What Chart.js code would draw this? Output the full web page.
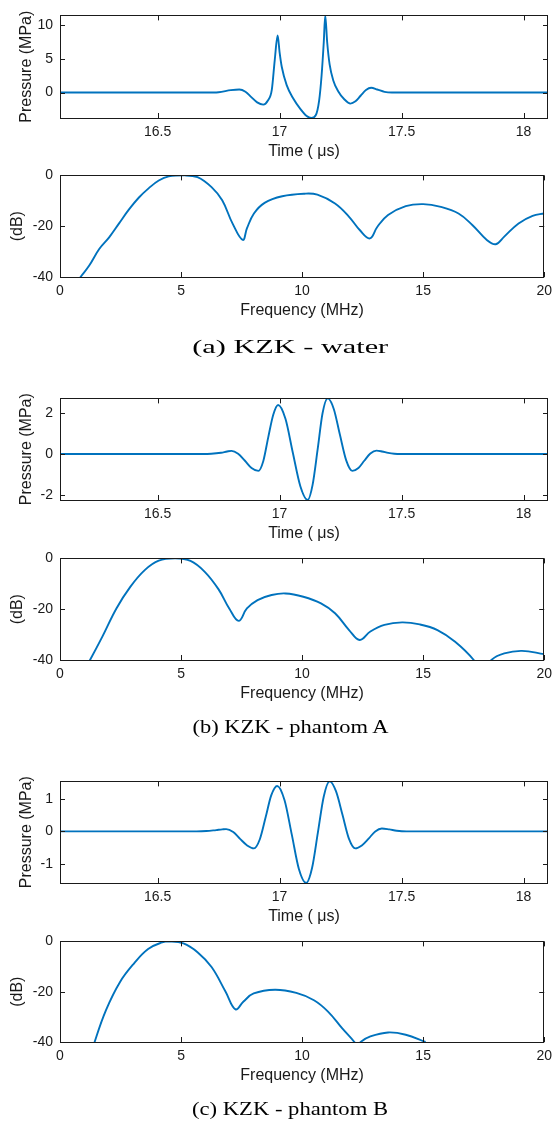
<!DOCTYPE html>
<html><head><meta charset="utf-8">
<script src="https://cdn.jsdelivr.net/npm/chart.js@4.4.1/dist/chart.umd.min.js"></script>
<style>
html,body{margin:0;padding:0;background:#fff}
body{width:558px;height:1122px;position:relative;overflow:hidden}
canvas{position:absolute;left:0;display:block}
.cap{position:absolute;left:11px;width:558px;text-align:center;font-family:"Liberation Serif",serif;font-size:18px;line-height:18px;color:#000;white-space:nowrap}
.cap span{display:inline-block;transform-origin:50% 50%}
</style></head><body>
<canvas id="c1"></canvas><canvas id="c2"></canvas>
<div class="cap" id="capA" style="top:338px"><span>(a) KZK - water</span></div>
<canvas id="c3"></canvas><canvas id="c4"></canvas>
<div class="cap" id="capB" style="top:718px"><span>(b) KZK - phantom A</span></div>
<canvas id="c5"></canvas><canvas id="c6"></canvas>
<div class="cap" id="capC" style="top:1100px"><span>(c) KZK - phantom B</span></div>
<script>
// ---- tick labels ----
const timeTicks = [16.5, 17, 17.5, 18];
const freqTicks = [0, 5, 10, 15, 20];
const dbTicks = [-40, -20, 0];
const pressTicksWater = [0, 5, 10];
const pressTicksA = [-2, 0, 2];
const pressTicksB = [-1, 0, 1];

// ---- (a) water ----
const waterTime = [16.10, 16.70, 16.75, 16.80, 16.835, 16.86, 16.884, 16.908, 16.933, 16.952, 16.968, 16.98, 16.992, 17.00, 17.009, 17.029, 17.056, 17.084, 17.111, 17.13, 17.148, 17.162, 17.172, 17.181, 17.187, 17.195, 17.205, 17.22, 17.24, 17.265, 17.29, 17.311, 17.332, 17.354, 17.375, 17.40, 17.43, 17.46, 18.10];
const waterPressure = [0, 0, 0.05, 0.35, 0.45, 0.12, -0.68, -1.47, -1.8, -1.2, 0.4, 4.8, 8.5, 6.0, 3.8, 1.1, -0.9, -2.4, -3.5, -3.8, -3.4, -1.2, 2.5, 7.5, 11.5, 7.5, 4.2, 1.8, 0.2, -1.0, -1.65, -1.31, -0.48, 0.36, 0.7, 0.45, 0.1, 0, 0];
const waterFreq = [0.6, 0.85, 1.2, 1.62, 2.03, 2.44, 2.85, 3.26, 3.67, 4.08, 4.49, 5.15, 5.68, 6.26, 6.7, 7.13, 7.55, 7.72, 8.01, 8.45, 9.18, 10.1, 10.63, 11.36, 11.94, 12.38, 12.8, 13.11, 13.55, 14.28, 15.0, 15.73, 16.46, 17.04, 17.63, 18.0, 18.35, 18.94, 19.52, 20.0];
const waterDb = [-43, -40, -35.6, -29, -24.4, -18.9, -13.4, -8.7, -5, -2, -0.4, 0, -0.65, -4.6, -9.8, -19, -25.4, -20.9, -15, -10.8, -8.2, -7.2, -7.6, -11.1, -16.3, -21.5, -24.8, -20.2, -15.6, -12.1, -11.3, -12.4, -15, -19.6, -25.4, -27.1, -24.1, -18.9, -15.9, -15];

// ---- (b) phantom A ----
const timeA = [16.10, 16.68, 16.72, 16.76, 16.785, 16.803, 16.83, 16.858, 16.885, 16.913, 16.933, 16.953, 16.974, 16.994, 17.024, 17.054, 17.085, 17.115, 17.135, 17.156, 17.176, 17.197, 17.222, 17.247, 17.273, 17.298, 17.323, 17.347, 17.372, 17.397, 17.42, 17.445, 17.47, 17.50, 18.10];
const pressureA = [0, 0, 0.01, 0.06, 0.12, 0.15, 0.01, -0.33, -0.68, -0.82, -0.35, 0.78, 1.9, 2.37, 1.7, 0.07, -1.56, -2.23, -1.51, 0.23, 1.97, 2.69, 2.18, 0.94, -0.31, -0.82, -0.68, -0.33, 0.02, 0.16, 0.12, 0.05, 0.01, 0, 0];
const freqA = [1.0, 1.24, 1.75, 2.33, 2.91, 3.5, 4.08, 4.75, 5.39, 5.97, 6.55, 6.99, 7.38, 7.72, 8.16, 8.74, 9.32, 10.05, 10.78, 11.36, 11.94, 12.38, 12.82, 13.4, 14.13, 14.86, 15.59, 16.32, 17.09, 17.45, 17.82, 18.35, 19.08, 20.0];
const dbA = [-44, -40, -30.8, -19.7, -11.1, -4.6, -0.9, 0, -1, -5.2, -12.2, -19.7, -24.6, -19.7, -16.4, -14.4, -13.8, -15.1, -17.7, -21.6, -28.2, -32.1, -28.8, -26.2, -25.2, -26, -28.2, -32.8, -40, -46, -40, -37.4, -36.4, -37.7];

// ---- (c) phantom B ----
const timeB = [16.10, 16.66, 16.70, 16.74, 16.765, 16.781, 16.81, 16.838, 16.867, 16.895, 16.919, 16.943, 16.966, 16.99, 17.02, 17.05, 17.079, 17.109, 17.133, 17.157, 17.181, 17.205, 17.231, 17.258, 17.284, 17.31, 17.337, 17.365, 17.392, 17.419, 17.45, 17.48, 17.52, 18.10];
const pressureB = [0, 0, 0.01, 0.04, 0.06, 0.07, -0.02, -0.23, -0.43, -0.52, -0.24, 0.44, 1.11, 1.39, 0.96, -0.1, -1.15, -1.58, -1.12, -0.03, 1.07, 1.53, 1.23, 0.5, -0.22, -0.52, -0.43, -0.22, 0, 0.09, 0.06, 0.02, 0, 0];
const freqB = [1.3, 1.43, 1.9, 2.48, 3.06, 3.64, 4.22, 4.51, 5.1, 5.68, 6.26, 6.84, 7.25, 7.57, 8.0, 8.88, 9.76, 10.49, 11.07, 11.65, 12.16, 12.29, 12.42, 12.82, 13.55, 14.28, 15.1];
const dbB = [-45, -40, -27.3, -16.1, -8.7, -3, -0.4, 0, -0.8, -4.3, -10.2, -20, -27, -24, -20.7, -19.2, -20.5, -23.4, -27.9, -34.5, -40, -42, -40, -37.8, -36.2, -37.1, -40];

const AXIS = '#1a1a1a';
const LINE = '#0072BD';
const SANS = '"Liberation Sans", Arial, sans-serif';

const boxPlugin = {
  id: 'box',
  afterDraw(chart) {
    const {ctx, chartArea: a, scales: {x, y}} = chart;
    ctx.save();
    ctx.strokeStyle = AXIS;
    ctx.lineWidth = 1;
    ctx.beginPath();
    x.ticks.forEach(t => {
      const px = Math.round(x.getPixelForValue(t.value)) + 0.5;
      ctx.moveTo(px, a.bottom); ctx.lineTo(px, a.bottom - 5);
      ctx.moveTo(px, a.top); ctx.lineTo(px, a.top + 5);
    });
    y.ticks.forEach(t => {
      const py = Math.round(y.getPixelForValue(t.value)) + 0.5;
      ctx.moveTo(a.left, py); ctx.lineTo(a.left + 5, py);
      ctx.moveTo(a.right, py); ctx.lineTo(a.right - 5, py);
    });
    ctx.stroke();
    ctx.strokeRect(Math.round(a.left) + 0.5, Math.round(a.top) + 0.5,
                   Math.round(a.right - a.left) - 1, Math.round(a.bottom - a.top));
    ctx.restore();
  }
};

function buildChart(el, H, xs, ys, xr, yr, xTicks, yTicks, xTitle, yTitle, yTitlePad, tension, mode) {
  el.width = 558; el.height = H;
  el.style.width = '558px'; el.style.height = H + 'px';
  const tickFont = {family: SANS, size: 14};
  const titleFont = {family: SANS, size: 16};
  return new Chart(el, {
    type: 'line',
    data: {datasets: [{
      data: xs.map((x, i) => ({x: x, y: ys[i]})),
      borderColor: LINE, borderWidth: 1.9, pointRadius: 0, fill: false,
      tension: tension, cubicInterpolationMode: mode
    }]},
    options: {
      responsive: false, maintainAspectRatio: false, animation: false, events: [],
      layout: {padding: {left: 0, right: 10, top: 10, bottom: 0}},
      plugins: {legend: {display: false}, tooltip: {enabled: false}},
      scales: {
        x: {
          type: 'linear', min: xr[0], max: xr[1],
          afterFit(s) { s.height = 45; },
          afterBuildTicks(s) { s.ticks = xTicks.map(v => ({value: v})); },
          grid: {display: false, drawTicks: false}, border: {display: false},
          ticks: {padding: 6, font: tickFont, color: AXIS, maxRotation: 0, autoSkip: false, callback: v => String(v)},
          title: {display: true, text: xTitle, font: titleFont, color: AXIS, padding: {top: 0, bottom: 2}}
        },
        y: {
          type: 'linear', min: yr[0], max: yr[1],
          afterFit(s) { s.width = 60; },
          afterBuildTicks(s) { s.ticks = yTicks.map(v => ({value: v})); },
          grid: {display: false, drawTicks: false}, border: {display: false},
          ticks: {padding: 7, font: tickFont, color: AXIS, autoSkip: false, callback: v => String(v)},
          title: {display: true, text: yTitle, font: titleFont, color: AXIS, padding: {top: yTitlePad, bottom: 0}}
        }
      }
    },
    plugins: [boxPlugin]
  });
}

function makeChart(id, plotTop, plotH, xs, ys, xr, yr, xTicks, yTicks, xTitle, yTitle, yTitlePad, tension, mode) {
  const el = document.getElementById(id);
  let H = plotH + 10 + 45;
  let chart = buildChart(el, H, xs, ys, xr, yr, xTicks, yTicks, xTitle, yTitle, yTitlePad, tension, mode);
  for (let k = 0; k < 3; k++) {
    const a = chart.chartArea;
    const diff = Math.round(plotH - (a.bottom - a.top));
    if (diff === 0) break;
    chart.destroy();
    H += diff;
    chart = buildChart(el, H, xs, ys, xr, yr, xTicks, yTicks, xTitle, yTitle, yTitlePad, tension, mode);
  }
  el.style.top = (plotTop - Math.round(chart.chartArea.top)) + 'px';
  return chart;
}

makeChart('c1', 15, 103, waterTime, waterPressure, [16.1, 18.1], [-3.8, 11.5], timeTicks, pressTicksWater, 'Time ( μs)', 'Pressure (MPa)', 17, 0, 'monotone');
makeChart('c2', 175, 102, waterFreq, waterDb, [0, 20], [-40, 0], freqTicks, dbTicks, 'Frequency (MHz)', '(dB)', 8, 0.4, 'default');
makeChart('c3', 398, 102, timeA, pressureA, [16.1, 18.1], [-2.23, 2.69], timeTicks, pressTicksA, 'Time ( μs)', 'Pressure (MPa)', 17, 0, 'monotone');
makeChart('c4', 558, 102, freqA, dbA, [0, 20], [-40, 0], freqTicks, dbTicks, 'Frequency (MHz)', '(dB)', 8, 0.4, 'default');
makeChart('c5', 781, 102, timeB, pressureB, [16.1, 18.1], [-1.58, 1.53], timeTicks, pressTicksB, 'Time ( μs)', 'Pressure (MPa)', 17, 0, 'monotone');
makeChart('c6', 941, 101, freqB, dbB, [0, 20], [-40, 0], freqTicks, dbTicks, 'Frequency (MHz)', '(dB)', 8, 0.4, 'default');

document.querySelectorAll('.cap span').forEach(sp => {
  const w = sp.getBoundingClientRect().width;
  const k = 196 / w;
  sp.style.transform = 'scaleX(' + k.toFixed(3) + ')';
});
</script>
</body></html>
